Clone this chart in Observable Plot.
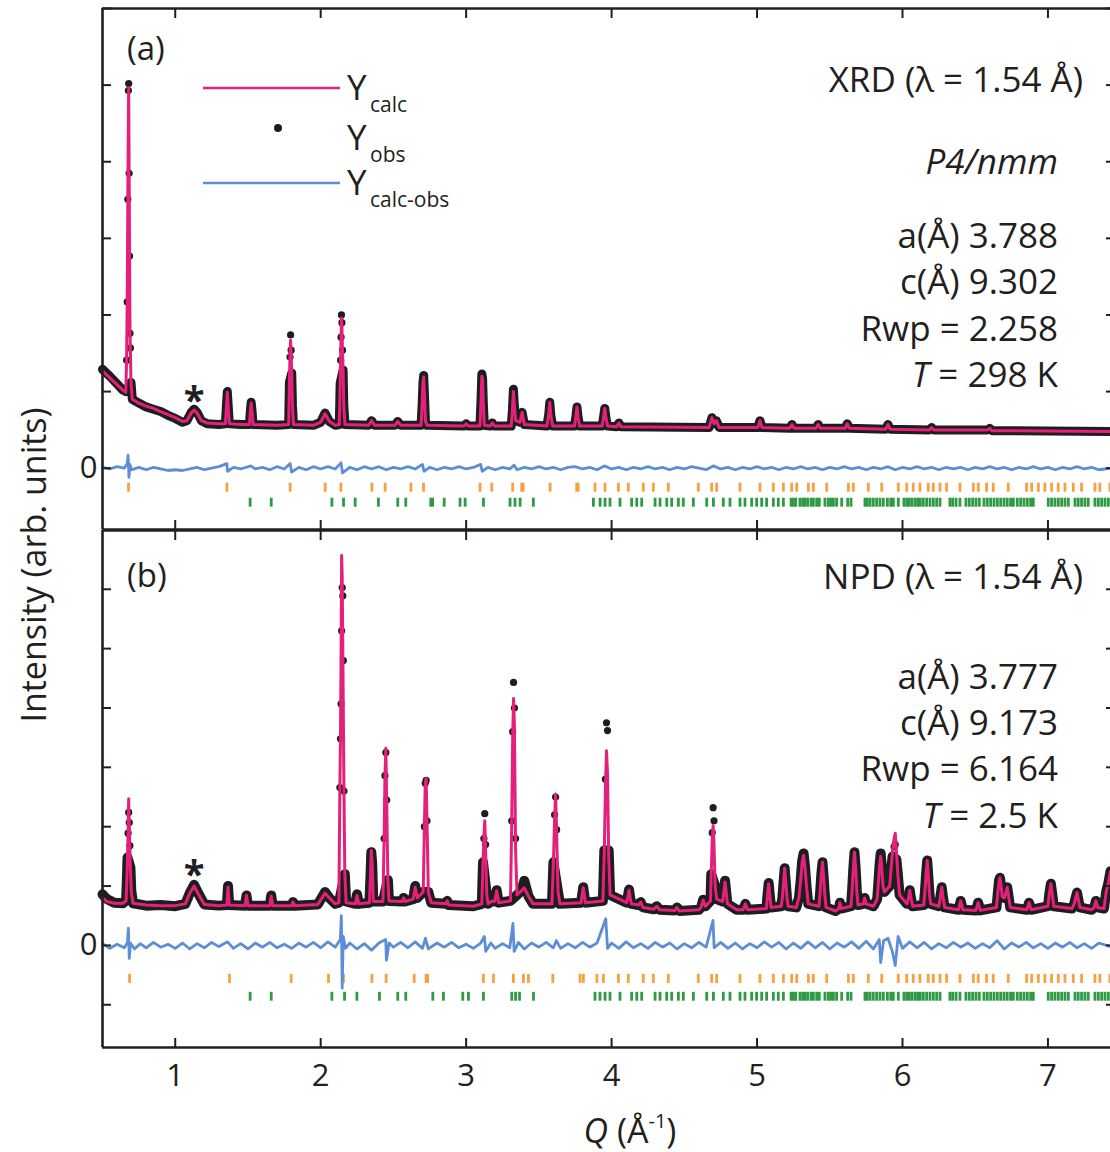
<!DOCTYPE html>
<html><head><meta charset="utf-8">
<script src="https://cdn.jsdelivr.net/npm/d3@7"></script>
<script src="https://cdn.jsdelivr.net/npm/@observablehq/plot@0.6"></script>
<style>
html,body{margin:0;padding:0;background:#fff;}
#wrap{position:relative;width:1110px;height:1152px;overflow:hidden;background:#fff;font-family:"Open Sans",sans-serif;}
#pa{position:absolute;left:0;top:0;}
#pb{position:absolute;left:0;top:529px;}
#ov{position:absolute;left:0;top:0;}
#ov text{font-family:"Open Sans",sans-serif;fill:#231f20;}
</style></head><body>
<div id="wrap"><div id="pa"></div><div id="pb"></div>
<svg id="ov" width="1110" height="1152">
  <line x1="203" y1="88" x2="340" y2="88" stroke="#e4207b" stroke-width="2.5"/>
  <circle cx="278" cy="128" r="4" fill="#1e1e1e"/>
  <line x1="203" y1="183" x2="340" y2="183" stroke="#5b8ed6" stroke-width="2.5"/>
  <text x="347" y="100" font-size="35">Y</text><text x="370" y="112" font-size="21">calc</text>
  <text x="347" y="150" font-size="35">Y</text><text x="370" y="162" font-size="21">obs</text>
  <text x="347" y="195" font-size="35">Y</text><text x="370" y="207" font-size="21">calc-obs</text>
  <text x="127" y="60" font-size="33">(a)</text>
  <text x="127" y="587" font-size="33">(b)</text>
  <g font-size="35" text-anchor="end">
    <text x="1083" y="92">XRD (λ = 1.54 Å)</text>
    <text x="1058" y="174" font-style="italic">P4/nmm</text>
    <text x="1058" y="248">a(Å) 3.788</text>
    <text x="1058" y="294">c(Å) 9.302</text>
    <text x="1058" y="341">Rwp = 2.258</text>
    <text x="1058" y="387"><tspan font-style="italic">T</tspan> = 298 K</text>
    <text x="1083" y="589">NPD (λ = 1.54 Å)</text>
    <text x="1058" y="689">a(Å) 3.777</text>
    <text x="1058" y="735">c(Å) 9.173</text>
    <text x="1058" y="781">Rwp = 6.164</text>
    <text x="1058" y="828"><tspan font-style="italic">T</tspan> = 2.5 K</text>
  </g>
  <text transform="translate(46,565) rotate(-90)" text-anchor="middle" font-size="34">Intensity (arb. units)</text>
  <text x="630" y="1143" text-anchor="middle" font-size="34"><tspan font-style="italic">Q</tspan> (Å<tspan font-size="20" dy="-15">-1</tspan><tspan dy="15">)</tspan></text>
</svg></div>
<script>
// ---------- data ----------
const X_TICKS = [1, 2, 3, 4, 5, 6, 7];
const XRD_Y_TICKS = [0, 1, 2, 3, 4, 5, 6];
const NPD_Y_TICKS = [-1, 0, 1, 2, 3, 4, 5, 6];

// XRD profile: [Q, Ycalc, Yobs]
const xrdProfile = [[0.50,1.27,1.29],[0.55,1.18,1.20],[0.60,1.09,1.10],[0.64,1.02,1.02],[0.660,0.99,1.00],[0.666,1.45,1.41],[0.670,2.20,2.17],[0.674,3.50,3.51],[0.678,4.60,4.93],[0.680,4.97,5.02],[0.683,3.90,3.85],[0.686,2.80,2.77],[0.689,1.80,1.76],[0.692,1.50,1.57],[0.696,1.10,1.12],[0.705,0.90,0.90],[0.75,0.85,0.85],[0.80,0.81,0.80],[0.85,0.78,0.77],[0.90,0.74,0.74],[0.95,0.70,0.69],[1.00,0.66,0.65],[1.05,0.61,0.60],[1.08,0.62,0.62],[1.11,0.72,0.73],[1.13,0.76,0.77],[1.15,0.72,0.73],[1.18,0.62,0.62],[1.22,0.59,0.58],[1.30,0.58,0.57],[1.345,0.58,0.58],[1.352,0.80,0.82],[1.358,0.99,1.00],[1.364,0.80,0.82],[1.372,0.58,0.58],[1.45,0.57,0.57],[1.510,0.57,0.57],[1.517,0.75,0.76],[1.522,0.85,0.86],[1.528,0.74,0.75],[1.535,0.57,0.57],[1.70,0.56,0.56],[1.780,0.57,0.57],[1.785,1.12,1.12],[1.789,1.45,1.45],[1.793,1.67,1.74],[1.797,1.50,1.54],[1.801,1.24,1.24],[1.806,0.80,0.82],[1.813,0.57,0.57],[1.95,0.56,0.56],[2.00,0.60,0.60],[2.03,0.71,0.72],[2.06,0.61,0.61],[2.10,0.56,0.56],[2.128,0.57,0.57],[2.134,1.11,1.11],[2.137,1.41,1.41],[2.140,1.71,1.71],[2.143,1.96,2.00],[2.146,1.85,1.90],[2.150,1.52,1.54],[2.154,1.28,1.28],[2.159,0.80,0.82],[2.167,0.57,0.57],[2.33,0.56,0.56],[2.35,0.62,0.62],[2.37,0.56,0.56],[2.51,0.56,0.56],[2.53,0.61,0.61],[2.55,0.56,0.56],[2.690,0.56,0.56],[2.698,0.85,0.85],[2.703,1.10,1.11],[2.708,1.19,1.21],[2.713,0.98,0.98],[2.720,0.62,0.62],[2.73,0.56,0.56],[2.985,0.55,0.55],[3.00,0.58,0.58],[3.015,0.55,0.55],[3.095,0.55,0.55],[3.103,0.90,0.92],[3.108,1.20,1.23],[3.113,1.15,1.18],[3.118,0.85,0.86],[3.125,0.56,0.56],[3.165,0.55,0.55],[3.18,0.59,0.59],[3.195,0.55,0.55],[3.310,0.55,0.55],[3.318,0.75,0.75],[3.325,1.00,1.03],[3.332,0.80,0.80],[3.340,0.62,0.62],[3.37,0.60,0.60],[3.385,0.73,0.73],[3.40,0.57,0.57],[3.555,0.55,0.55],[3.568,0.70,0.70],[3.575,0.86,0.86],[3.583,0.68,0.68],[3.595,0.55,0.55],[3.745,0.55,0.55],[3.755,0.68,0.68],[3.762,0.80,0.80],[3.770,0.66,0.66],[3.780,0.55,0.55],[3.935,0.55,0.55],[3.945,0.67,0.67],[3.953,0.78,0.78],[3.961,0.66,0.66],[3.972,0.55,0.55],[4.035,0.54,0.54],[4.05,0.59,0.59],[4.065,0.54,0.54],[4.67,0.53,0.53],[4.69,0.66,0.66],[4.705,0.58,0.58],[4.72,0.62,0.62],[4.74,0.53,0.53],[5.005,0.53,0.53],[5.02,0.62,0.62],[5.035,0.53,0.53],[5.225,0.52,0.52],[5.24,0.57,0.57],[5.255,0.52,0.52],[5.405,0.52,0.52],[5.42,0.57,0.57],[5.435,0.52,0.52],[5.605,0.52,0.52],[5.62,0.58,0.58],[5.635,0.52,0.52],[5.885,0.51,0.51],[5.90,0.57,0.57],[5.915,0.51,0.51],[6.185,0.50,0.50],[6.20,0.53,0.53],[6.215,0.50,0.50],[6.585,0.50,0.50],[6.60,0.52,0.52],[6.615,0.49,0.49],[7.43,0.48,0.48]];

// XRD difference curve: [Q, Ycalc-obs]
const xrdDiff = [[0.50,0.01],[0.55,-0.01],[0.60,0.02],[0.65,0.00],[0.670,0.06],[0.676,0.17],[0.682,-0.12],[0.688,0.05],[0.70,-0.02],[0.75,0.01],[0.80,-0.02],[0.85,0.01],[0.90,-0.01],[0.95,-0.03],[1.00,-0.02],[1.05,-0.03],[1.10,-0.01],[1.15,0.01],[1.20,-0.02],[1.25,0.00],[1.30,0.02],[1.355,0.06],[1.36,-0.04],[1.40,0.01],[1.45,-0.01],[1.52,0.03],[1.55,-0.01],[1.60,0.01],[1.65,-0.02],[1.70,0.02],[1.75,-0.01],[1.79,0.06],[1.80,-0.05],[1.85,0.01],[1.90,-0.02],[1.95,0.02],[2.00,-0.01],[2.05,0.02],[2.10,-0.01],[2.14,0.07],[2.15,-0.06],[2.20,0.01],[2.25,-0.02],[2.30,0.02],[2.35,-0.01],[2.40,0.02],[2.45,-0.02],[2.50,0.01],[2.55,-0.01],[2.60,0.02],[2.65,-0.01],[2.70,0.05],[2.71,-0.04],[2.75,0.01],[2.80,-0.02],[2.85,0.01],[2.90,-0.01],[2.95,0.02],[3.00,-0.01],[3.05,0.01],[3.10,0.05],[3.11,-0.04],[3.15,0.01],[3.20,-0.02],[3.25,0.01],[3.30,-0.01],[3.33,0.04],[3.35,-0.02],[3.40,0.01],[3.45,-0.01],[3.50,0.02],[3.55,-0.01],[3.60,0.01],[3.65,-0.02],[3.70,0.01],[3.75,0.02],[3.80,-0.01],[3.85,0.01],[3.90,-0.02],[3.95,0.03],[4.00,-0.01],[4.05,0.01],[4.10,-0.02],[4.15,0.01],[4.20,-0.01],[4.25,0.02],[4.30,-0.01],[4.35,0.01],[4.40,-0.02],[4.45,0.01],[4.50,-0.01],[4.55,0.02],[4.60,0.00],[4.65,-0.02],[4.70,0.03],[4.75,-0.01],[4.80,0.01],[4.85,-0.02],[4.90,0.01],[4.95,-0.01],[5.00,0.02],[5.05,-0.01],[5.10,0.01],[5.15,-0.02],[5.20,0.01],[5.25,-0.01],[5.30,0.02],[5.35,-0.01],[5.40,0.01],[5.45,-0.02],[5.50,0.01],[5.55,-0.01],[5.60,0.02],[5.65,-0.01],[5.70,0.01],[5.75,-0.02],[5.80,0.01],[5.85,-0.01],[5.90,0.02],[5.95,-0.02],[6.00,0.01],[6.05,-0.01],[6.10,0.02],[6.15,-0.01],[6.20,0.01],[6.25,-0.02],[6.30,0.01],[6.35,-0.01],[6.40,0.01],[6.45,-0.02],[6.50,0.01],[6.55,-0.01],[6.60,0.02],[6.65,-0.01],[6.70,0.01],[6.75,-0.02],[6.80,0.01],[6.85,-0.01],[6.90,0.02],[6.95,-0.01],[7.00,0.01],[7.05,-0.02],[7.10,0.01],[7.15,-0.01],[7.20,0.02],[7.25,-0.01],[7.30,0.01],[7.35,-0.02],[7.43,0.00]];

// XRD reflection positions (Q)
const xrdPhase1 = [0.679,1.355,1.790,2.031,2.139,2.352,2.443,2.620,2.707,3.096,3.176,3.320,3.382,3.392,3.577,3.760,3.770,3.886,3.955,4.047,4.115,4.218,4.287,4.390,4.596,4.688,4.722,4.883,5.020,5.112,5.181,5.238,5.273,5.353,5.387,5.479,5.628,5.662,5.765,5.857,5.971,6.029,6.074,6.120,6.177,6.212,6.258,6.303,6.395,6.487,6.521,6.578,6.624,6.727,6.853,6.888,6.934,6.979,7.025,7.071,7.117,7.174,7.231,7.323,7.357,7.426];
const xrdPhase2 = [1.515,1.660,2.077,2.157,2.237,2.397,2.530,2.585,2.757,2.770,2.849,2.958,2.993,3.119,3.302,3.336,3.371,3.462,3.875,3.921,3.955,3.989,4.058,4.138,4.173,4.207,4.299,4.333,4.379,4.413,4.459,4.493,4.562,4.654,4.700,4.768,4.814,4.883,4.917,4.963,4.997,5.032,5.066,5.112,5.146,5.181,5.234,5.250,5.266,5.295,5.314,5.330,5.348,5.371,5.387,5.410,5.428,5.467,5.490,5.506,5.525,5.547,5.582,5.623,5.646,5.742,5.758,5.777,5.799,5.822,5.845,5.868,5.896,5.919,5.937,5.971,6.010,6.029,6.047,6.065,6.086,6.104,6.122,6.143,6.166,6.189,6.212,6.235,6.258,6.326,6.345,6.368,6.395,6.436,6.459,6.482,6.505,6.528,6.560,6.583,6.606,6.629,6.652,6.675,6.698,6.720,6.743,6.762,6.789,6.812,6.835,6.858,6.881,6.899,7.002,7.025,7.048,7.071,7.094,7.117,7.140,7.186,7.208,7.231,7.254,7.277,7.323,7.346,7.369,7.392,7.415];

// NPD profile: [Q, Ycalc, Yobs]
const npdProfile = [[0.50,0.80,0.86],[0.53,0.74,0.78],[0.58,0.71,0.72],[0.64,0.71,0.71],[0.662,0.75,0.76],[0.668,1.13,1.13],[0.672,1.48,1.48],[0.676,1.89,1.89],[0.680,2.47,2.24],[0.684,2.05,2.07],[0.688,1.65,1.68],[0.692,1.28,1.31],[0.698,0.90,0.92],[0.71,0.71,0.71],[0.80,0.68,0.67],[0.90,0.67,0.68],[1.00,0.67,0.66],[1.07,0.70,0.70],[1.10,0.88,0.88],[1.13,1.00,1.02],[1.16,0.86,0.87],[1.20,0.69,0.69],[1.30,0.67,0.67],[1.355,0.68,0.68],[1.363,0.98,1.00],[1.371,0.68,0.68],[1.48,0.67,0.67],[1.49,0.84,0.84],[1.50,0.67,0.67],[1.65,0.67,0.67],[1.66,0.83,0.84],[1.67,0.67,0.67],[1.80,0.67,0.67],[1.81,0.73,0.73],[1.82,0.67,0.67],[1.98,0.69,0.69],[2.03,0.88,0.90],[2.06,0.80,0.80],[2.10,0.70,0.70],[2.125,0.72,0.72],[2.132,2.66,2.66],[2.136,3.48,3.48],[2.140,4.80,4.07],[2.144,6.57,5.30],[2.148,6.20,6.03],[2.152,5.00,5.89],[2.156,3.80,4.80],[2.160,2.60,2.60],[2.166,1.20,1.20],[2.175,0.72,0.74],[2.238,0.70,0.70],[2.25,0.84,0.86],[2.262,0.70,0.70],[2.335,0.72,0.72],[2.342,1.14,1.14],[2.348,1.60,1.57],[2.354,1.38,1.38],[2.362,0.74,0.74],[2.428,0.74,0.74],[2.436,1.80,1.80],[2.442,2.86,2.86],[2.448,3.32,3.25],[2.454,2.40,2.45],[2.462,1.10,1.10],[2.470,0.75,0.75],[2.56,0.74,0.74],[2.57,0.80,0.80],[2.58,0.74,0.74],[2.636,0.78,0.78],[2.65,0.98,1.00],[2.664,0.80,0.80],[2.705,0.90,0.90],[2.713,2.00,2.00],[2.719,2.73,2.73],[2.725,2.81,2.78],[2.731,2.10,2.10],[2.740,0.90,0.90],[2.76,0.72,0.72],[2.86,0.70,0.70],[2.87,0.75,0.75],[2.88,0.68,0.68],[3.05,0.66,0.66],[3.108,0.70,0.70],[3.116,1.40,1.40],[3.122,1.80,1.80],[3.128,2.10,2.22],[3.134,1.60,1.70],[3.142,0.85,0.85],[3.150,0.70,0.70],[3.18,0.75,0.75],[3.196,0.74,0.74],[3.21,0.92,0.93],[3.224,0.72,0.72],[3.305,0.75,0.75],[3.313,2.00,2.10],[3.320,3.50,3.60],[3.326,4.16,4.43],[3.332,3.70,4.00],[3.340,1.60,1.80],[3.350,0.85,0.85],[3.38,0.92,0.92],[3.40,0.97,1.09],[3.43,0.82,0.82],[3.46,0.70,0.70],[3.590,0.70,0.70],[3.600,1.40,1.40],[3.608,2.10,2.20],[3.615,2.55,2.50],[3.622,1.90,1.95],[3.632,0.90,0.90],[3.645,0.70,0.70],[3.79,0.72,0.72],[3.805,0.97,0.98],[3.82,0.72,0.72],[3.940,0.75,0.75],[3.950,1.60,1.60],[3.958,2.70,2.80],[3.965,3.28,3.75],[3.972,2.90,3.62],[3.980,1.50,1.60],[3.990,0.85,0.85],[4.104,0.72,0.72],[4.112,0.82,0.83],[4.12,0.93,0.94],[4.128,0.80,0.80],[4.136,0.70,0.70],[4.185,0.68,0.68],[4.20,0.73,0.73],[4.215,0.64,0.64],[4.29,0.61,0.61],[4.31,0.66,0.66],[4.33,0.60,0.60],[4.435,0.59,0.59],[4.45,0.64,0.64],[4.465,0.58,0.58],[4.60,0.60,0.60],[4.615,0.64,0.64],[4.63,0.76,0.77],[4.645,0.66,0.66],[4.680,0.75,0.75],[4.685,1.20,1.20],[4.692,1.80,1.90],[4.698,2.02,2.32],[4.704,1.70,2.10],[4.712,1.00,1.00],[4.722,0.78,0.78],[4.764,0.74,0.74],[4.772,0.90,0.92],[4.78,1.07,1.09],[4.788,0.90,0.90],[4.796,0.70,0.70],[4.86,0.60,0.60],[4.905,0.60,0.60],[4.92,0.70,0.70],[4.935,0.60,0.60],[5.064,0.62,0.62],[5.072,0.84,0.85],[5.08,1.04,1.05],[5.088,0.84,0.84],[5.096,0.64,0.64],[5.166,0.66,0.66],[5.174,0.80,0.80],[5.182,1.05,1.05],[5.19,1.30,1.30],[5.198,1.05,1.05],[5.206,0.80,0.80],[5.214,0.66,0.66],[5.27,0.64,0.64],[5.288,0.80,0.80],[5.30,1.10,1.10],[5.31,1.40,1.42],[5.32,1.52,1.55],[5.33,1.30,1.32],[5.34,1.00,1.00],[5.352,0.70,0.70],[5.426,0.66,0.66],[5.434,0.90,0.90],[5.442,1.20,1.20],[5.45,1.40,1.40],[5.458,1.15,1.15],[5.466,0.85,0.85],[5.474,0.64,0.64],[5.54,0.58,0.58],[5.562,0.62,0.62],[5.57,0.72,0.72],[5.578,0.62,0.62],[5.646,0.66,0.66],[5.654,0.95,0.95],[5.662,1.30,1.30],[5.67,1.57,1.57],[5.678,1.30,1.30],[5.686,0.92,0.92],[5.694,0.68,0.68],[5.73,0.70,0.70],[5.74,0.80,0.80],[5.75,0.70,0.70],[5.80,0.66,0.66],[5.826,0.78,0.78],[5.834,1.05,1.05],[5.842,1.32,1.35],[5.85,1.50,1.55],[5.858,1.30,1.30],[5.866,1.00,1.00],[5.876,0.90,0.90],[5.912,1.00,1.00],[5.922,1.30,1.30],[5.932,1.60,1.50],[5.942,1.80,1.66],[5.95,1.89,1.70],[5.958,1.60,1.45],[5.968,1.20,1.20],[5.98,0.85,0.85],[6.03,0.70,0.70],[6.042,0.80,0.80],[6.05,0.93,0.93],[6.058,0.80,0.80],[6.07,0.66,0.66],[6.146,0.68,0.68],[6.154,0.90,0.90],[6.162,1.20,1.20],[6.17,1.43,1.43],[6.178,1.15,1.15],[6.186,0.85,0.85],[6.194,0.70,0.70],[6.25,0.66,0.66],[6.262,0.85,0.85],[6.27,0.98,0.98],[6.278,0.82,0.82],[6.29,0.64,0.64],[6.385,0.60,0.60],[6.40,0.75,0.75],[6.415,0.60,0.60],[6.505,0.59,0.59],[6.52,0.72,0.72],[6.535,0.59,0.59],[6.646,0.64,0.64],[6.656,0.90,0.90],[6.664,1.08,1.10],[6.67,1.14,1.14],[6.678,1.00,1.00],[6.686,0.82,0.82],[6.70,0.80,0.80],[6.712,0.90,0.90],[6.72,0.98,0.98],[6.728,0.85,0.85],[6.74,0.64,0.64],[6.855,0.60,0.60],[6.87,0.72,0.72],[6.885,0.60,0.60],[7.000,0.66,0.66],[7.010,0.88,0.88],[7.02,1.04,1.04],[7.03,0.86,0.86],[7.04,0.66,0.66],[7.165,0.62,0.62],[7.18,0.70,0.70],[7.192,0.82,0.82],[7.20,0.89,0.89],[7.208,0.78,0.78],[7.22,0.64,0.64],[7.30,0.60,0.60],[7.318,0.64,0.64],[7.33,0.75,0.75],[7.342,0.64,0.64],[7.385,0.62,0.62],[7.40,0.90,0.90],[7.415,1.05,1.05],[7.43,1.25,1.25]];

// NPD difference curve
const npdDiff = [[0.50,0.03],[0.55,-0.05],[0.60,0.02],[0.65,-0.04],[0.672,0.05],[0.678,0.29],[0.684,-0.22],[0.692,0.04],[0.72,-0.06],[0.76,0.03],[0.80,-0.04],[0.85,0.05],[0.90,-0.03],[0.95,0.02],[1.00,-0.05],[1.05,0.04],[1.10,-0.06],[1.15,0.03],[1.20,-0.04],[1.25,0.05],[1.30,-0.02],[1.36,0.06],[1.40,-0.05],[1.45,0.03],[1.50,-0.06],[1.55,0.04],[1.60,-0.03],[1.65,0.05],[1.70,-0.04],[1.75,0.02],[1.80,-0.05],[1.85,0.04],[1.90,-0.03],[1.95,0.05],[2.00,-0.04],[2.05,0.06],[2.10,-0.03],[2.135,0.10],[2.142,0.50],[2.148,-0.72],[2.155,0.15],[2.17,-0.05],[2.20,0.04],[2.25,-0.06],[2.30,0.03],[2.35,-0.08],[2.40,0.04],[2.447,0.10],[2.452,-0.25],[2.47,0.04],[2.50,-0.03],[2.55,0.05],[2.60,-0.04],[2.65,0.06],[2.70,-0.05],[2.72,0.12],[2.74,-0.06],[2.80,0.04],[2.85,-0.03],[2.90,0.05],[2.95,-0.04],[3.00,0.02],[3.05,-0.05],[3.10,0.04],[3.125,0.15],[3.135,-0.10],[3.17,0.04],[3.20,-0.05],[3.25,0.03],[3.30,-0.04],[3.322,0.37],[3.330,-0.10],[3.36,0.05],[3.40,-0.06],[3.45,0.04],[3.50,-0.03],[3.55,0.05],[3.60,-0.04],[3.62,0.08],[3.65,-0.05],[3.70,0.03],[3.75,-0.04],[3.80,0.05],[3.85,-0.03],[3.90,0.04],[3.96,0.45],[3.972,-0.05],[4.00,0.04],[4.05,-0.05],[4.10,0.06],[4.15,-0.04],[4.20,0.03],[4.25,-0.05],[4.30,0.05],[4.35,-0.03],[4.40,0.04],[4.45,-0.06],[4.50,0.03],[4.55,-0.04],[4.60,0.05],[4.65,-0.03],[4.697,0.42],[4.705,-0.04],[4.75,0.05],[4.80,-0.05],[4.85,0.04],[4.90,-0.06],[4.95,0.03],[5.00,-0.04],[5.05,0.06],[5.10,-0.03],[5.15,0.05],[5.20,-0.06],[5.25,0.04],[5.30,-0.05],[5.35,0.06],[5.40,-0.04],[5.45,0.05],[5.50,-0.06],[5.55,0.04],[5.60,-0.03],[5.65,0.06],[5.70,-0.05],[5.75,0.07],[5.80,-0.06],[5.84,0.10],[5.85,-0.29],[5.87,0.08],[5.90,0.12],[5.93,-0.10],[5.95,-0.34],[5.97,0.15],[6.00,-0.05],[6.05,0.06],[6.10,-0.04],[6.15,0.05],[6.20,-0.06],[6.25,0.03],[6.30,-0.04],[6.35,0.05],[6.40,-0.03],[6.45,0.04],[6.50,-0.05],[6.55,0.03],[6.60,-0.04],[6.65,0.08],[6.70,-0.06],[6.75,0.04],[6.80,-0.03],[6.85,0.05],[6.90,-0.04],[6.95,0.03],[7.00,-0.05],[7.05,0.04],[7.10,-0.03],[7.15,0.05],[7.20,-0.04],[7.25,0.03],[7.30,-0.05],[7.35,0.04],[7.43,-0.02]];

const npdPhase1 = [0.686,1.373,1.797,2.054,2.157,2.352,2.450,2.643,2.725,2.735,3.119,3.188,3.325,3.394,3.428,3.596,3.783,3.806,3.899,3.944,4.047,4.115,4.218,4.287,4.390,4.596,4.688,4.722,4.883,5.020,5.112,5.181,5.238,5.273,5.353,5.387,5.479,5.628,5.662,5.765,5.857,5.971,6.029,6.074,6.120,6.177,6.212,6.258,6.303,6.395,6.487,6.521,6.578,6.624,6.727,6.853,6.888,6.934,6.979,7.025,7.071,7.117,7.174,7.231,7.323,7.357,7.426];
const npdPhase2 = [1.515,1.660,2.077,2.164,2.249,2.404,2.530,2.585,2.771,2.844,2.977,3.016,3.119,3.314,3.340,3.367,3.463,3.886,3.920,3.955,3.989,4.058,4.138,4.173,4.207,4.299,4.333,4.379,4.413,4.459,4.493,4.562,4.654,4.700,4.768,4.814,4.883,4.917,4.963,4.997,5.032,5.066,5.112,5.146,5.181,5.234,5.250,5.266,5.295,5.314,5.330,5.348,5.371,5.387,5.410,5.428,5.467,5.490,5.506,5.525,5.547,5.582,5.623,5.646,5.742,5.758,5.777,5.799,5.822,5.845,5.868,5.896,5.919,5.937,5.971,6.010,6.029,6.047,6.065,6.086,6.104,6.122,6.143,6.166,6.189,6.212,6.235,6.258,6.326,6.345,6.368,6.395,6.436,6.459,6.482,6.505,6.528,6.560,6.583,6.606,6.629,6.652,6.675,6.698,6.720,6.743,6.762,6.789,6.812,6.835,6.858,6.881,6.899,7.002,7.025,7.048,7.071,7.094,7.117,7.140,7.186,7.208,7.231,7.254,7.277,7.323,7.346,7.369,7.392,7.415];

// impurity marker (*) positions [Q, I]
const xrdStar = [[1.13, 0.87]];
const npdStar = [[1.13, 1.18]];

// ---------- styles ----------
const PINK = "#e4207b", BLUE = "#5b8ed6", BLACK = "#1e1e1e", ORANGE = "#f8a13e", GREEN = "#2e9a44", INK = "#231f20";
const X_DOMAIN = [0.5, 7.43];

function panel(o) {
  const rows = o.profile.map(([q, calc, obs]) => ({q, calc, obs}));
  const diff = o.diff.map(([q, v]) => ({q, v}));
  const marks = [
    Plot.ruleX(o.phase1, {y1: o.p1Y[0], y2: o.p1Y[1], stroke: ORANGE, strokeWidth: 2.8}),
    Plot.ruleX(o.phase2, {y1: o.p2Y[0], y2: o.p2Y[1], stroke: GREEN, strokeWidth: 2.8}),
    Plot.line(diff, {x: "q", y: "v", stroke: BLUE, strokeWidth: 2.8, strokeLinejoin: "round"}),
    Plot.line(rows, {x: "q", y: "obs", filter: d => d.obs <= o.bandMax, stroke: BLACK, strokeWidth: o.bandWidth, strokeLinejoin: "round", strokeLinecap: "round"}),
    Plot.dot(rows, {x: "q", y: "obs", r: 3.6, fill: BLACK}),
    Plot.line(rows, {x: "q", y: "calc", stroke: PINK, strokeWidth: 3, strokeLinejoin: "round"}),
    Plot.text(o.star, {x: d => d[0], y: d => d[1], text: () => "*", fontSize: 38, fontWeight: "bold", fill: BLACK}),
    Plot.ruleX([X_DOMAIN[0]], {stroke: INK, strokeWidth: 2.6}),
    Plot.ruleY([o.yDomain[1]], {stroke: INK, strokeWidth: 2.6}),
    Plot.ruleY([o.yDomain[0]], {stroke: INK, strokeWidth: 2.6}),
    Plot.axisX({anchor: "top", ticks: X_TICKS, tickSize: -9, tickFormat: () => "", label: null, strokeWidth: 2, stroke: INK}),
    Plot.axisX({anchor: "bottom", ticks: X_TICKS, tickSize: -9, tickFormat: () => "", label: null, strokeWidth: 2, stroke: INK}),
    Plot.axisY({anchor: "left", ticks: o.yTicks, tickSize: -9, tickFormat: () => "", label: null, strokeWidth: 2, stroke: INK}),
    Plot.axisY({anchor: "right", ticks: o.yTicks, tickSize: -5, tickFormat: () => "", label: null, strokeWidth: 2, stroke: INK}),
    Plot.axisY({anchor: "left", ticks: [0], tickSize: 0, tickPadding: 5, tickFormat: d => String(d), label: null, fontSize: 31, fill: INK})
  ];
  if (o.xLabels) marks.push(Plot.axisX({anchor: "bottom", ticks: X_TICKS, tickSize: 0, tickPadding: 16, tickFormat: d => String(d), label: null, fontSize: 31, fill: INK}));
  return Plot.plot({
    width: 1110, height: o.height,
    marginLeft: 102, marginRight: 0, marginTop: o.marginTop, marginBottom: o.marginBottom,
    x: {domain: X_DOMAIN},
    y: {domain: o.yDomain},
    style: {fontFamily: '"Open Sans", sans-serif', fontSize: "31px", color: INK, background: "transparent", overflow: "visible"},
    marks
  });
}

document.getElementById("pa").appendChild(panel({
  profile: xrdProfile, diff: xrdDiff, phase1: xrdPhase1, phase2: xrdPhase2, star: xrdStar,
  p1Y: [-0.196, -0.313], p2Y: [-0.392, -0.509],
  yDomain: [-0.8, 6.0], yTicks: XRD_Y_TICKS, height: 530, marginTop: 8, marginBottom: 1,
  bandMax: 1.3, bandWidth: 9, xLabels: false
}));
document.getElementById("pb").appendChild(panel({
  profile: npdProfile, diff: npdDiff, phase1: npdPhase1, phase2: npdPhase2, star: npdStar,
  p1Y: [-0.488, -0.640], p2Y: [-0.79, -0.94],
  yDomain: [-1.72, 6.99], yTicks: NPD_Y_TICKS, height: 623, marginTop: 1, marginBottom: 105,
  bandMax: 1.6, bandWidth: 10, xLabels: true
}));
</script></body></html>
